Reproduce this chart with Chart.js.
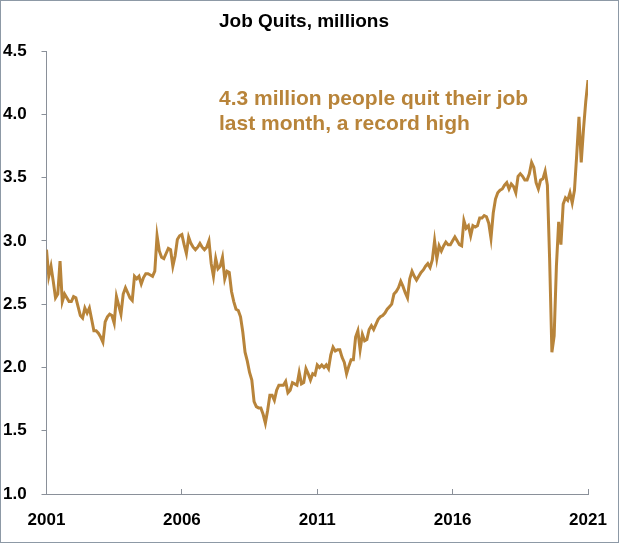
<!DOCTYPE html>
<html>
<head>
<meta charset="utf-8">
<title>Job Quits</title>
<script src="https://cdn.jsdelivr.net/npm/chart.js@4.4.1/dist/chart.umd.min.js"></script>
<style>
  html, body { margin: 0; padding: 0; background: #fff; }
  .frame { width: 619px; height: 543px; box-sizing: border-box; border: 1px solid #8d99a6; position: relative; }
  canvas { position: absolute; left: 0; top: 0; }
</style>
</head>
<body>
<div class="frame"><canvas id="quitsChart" width="617" height="541"></canvas></div>
<script>
// tick labels on the x axis, one every 60 months
const yearLabels = ['2001', '2006', '2011', '2016', '2021'];
const monthsPerLabel = 60;

// monthly job quits, millions (one row per year)
const quits = [
  2.93, 2.72, 2.80, 2.68, 2.55, 2.58, 2.84, 2.52, 2.58, 2.55, 2.52, 2.52,
  2.56, 2.55, 2.48, 2.41, 2.39, 2.47, 2.43, 2.47, 2.38, 2.29, 2.29, 2.27,
  2.24, 2.20, 2.36, 2.40, 2.42, 2.41, 2.35, 2.56, 2.49, 2.42, 2.58, 2.63,
  2.59, 2.55, 2.53, 2.72, 2.70, 2.72, 2.66, 2.71, 2.74, 2.74, 2.73, 2.72,
  2.76, 3.04, 2.92, 2.87, 2.86, 2.90, 2.94, 2.93, 2.80, 2.88, 3.01, 3.04,
  3.05, 2.97, 2.90, 3.03, 2.98, 2.95, 2.93, 2.95, 2.98, 2.95, 2.93, 2.95,
  3.00, 2.82, 2.72, 2.86, 2.78, 2.80, 2.87, 2.70, 2.76, 2.75, 2.60, 2.52,
  2.46, 2.45, 2.40, 2.28, 2.12, 2.05, 1.96, 1.90, 1.73, 1.69, 1.68, 1.68,
  1.63, 1.56, 1.66, 1.78, 1.78, 1.74, 1.82, 1.86, 1.86, 1.86, 1.89, 1.80,
  1.82, 1.88, 1.87, 1.86, 1.96, 1.87, 1.88, 1.99, 1.95, 1.90, 1.95, 1.94,
  2.02, 2.00, 2.02, 2.00, 2.02, 1.99, 2.10, 2.16, 2.13, 2.14, 2.14, 2.08,
  2.04, 1.95, 2.01, 2.06, 2.06, 2.24, 2.29, 2.14, 2.26, 2.21, 2.22, 2.30,
  2.33, 2.30, 2.34, 2.38, 2.40, 2.41, 2.43, 2.46, 2.48, 2.50, 2.58, 2.60,
  2.63, 2.68, 2.64, 2.59, 2.55, 2.70, 2.76, 2.72, 2.69, 2.72, 2.75, 2.77,
  2.80, 2.82, 2.79, 2.85, 3.00, 2.86, 2.96, 2.92, 2.96, 2.99, 2.97, 2.97,
  3.00, 3.03, 3.00, 2.97, 2.96, 3.16, 3.10, 3.12, 3.04, 3.12, 3.11, 3.12,
  3.18, 3.18, 3.20, 3.19, 3.14, 3.02, 3.22, 3.33, 3.38, 3.40, 3.41, 3.44,
  3.46, 3.41, 3.45, 3.43, 3.38, 3.51, 3.53, 3.51, 3.48, 3.48, 3.53, 3.62,
  3.58, 3.46, 3.41, 3.48, 3.49, 3.55, 3.44, 2.85, 2.12, 2.25, 2.80, 3.15,
  2.97, 3.29, 3.34, 3.32, 3.38, 3.30, 3.40, 3.68, 3.98, 3.62, 3.88, 4.10,
  4.27
];

const yMin = 1.0, yMax = 4.5, yStep = 0.5;
const chartTitle = 'Job Quits, millions';
const noteLines = ['4.3 million people quit their job', 'last month, a record high'];

const gold = '#b8843a';
const axisGrey = '#8a9099';
const fontFamily = '"Liberation Sans", Arial, sans-serif';

Chart.defaults.font.family = fontFamily;

// title and annotation text
const textPlugin = {
  id: 'texts',
  afterDraw(chart) {
    const ctx = chart.ctx;
    ctx.save();
    ctx.textBaseline = 'middle';

    ctx.font = 'bold 19px ' + fontFamily;
    ctx.fillStyle = '#000';
    ctx.textAlign = 'center';
    ctx.fillText(chartTitle, 303, 21);

    ctx.font = 'bold 21px ' + fontFamily;
    ctx.fillStyle = gold;
    ctx.textAlign = 'left';
    noteLines.forEach((line, i) => ctx.fillText(line, 218, 98 + i * 25));
    ctx.restore();
  }
};

const ctx = document.getElementById('quitsChart').getContext('2d');
new Chart(ctx, {
  type: 'line',
  data: {
    datasets: [{
      label: 'Job quits',
      data: quits.map((v, i) => ({ x: i, y: v })),
      borderColor: gold,
      borderWidth: 3,
      pointRadius: 0,
      tension: 0,
      fill: false
    }]
  },
  options: {
    responsive: false,
    animation: false,
    layout: { padding: { top: 50, left: 2, right: 30, bottom: 0 } },
    plugins: {
      legend: { display: false },
      tooltip: { enabled: false },
      title: { display: false }
    },
    scales: {
      x: {
        type: 'linear',
        min: 0,
        max: quits.length - 1,
        grid: { drawOnChartArea: false, tickLength: -5, color: axisGrey },
        border: { color: axisGrey },
        ticks: {
          stepSize: monthsPerLabel,
          autoSkip: false,
          maxRotation: 0,
          padding: 21,
          color: '#000',
          font: { size: 17, weight: 'bold' },
          callback: v => yearLabels[v / monthsPerLabel]
        },
        afterFit: s => { s.height = 48; s.paddingLeft = 0; s.paddingRight = 0; }
      },
      y: {
        min: yMin,
        max: yMax,
        grid: { drawOnChartArea: false, tickLength: 5, color: axisGrey },
        border: { color: axisGrey },
        ticks: {
          stepSize: yStep,
          crossAlign: 'far',
          color: '#000',
          font: { size: 17, weight: 'bold' },
          callback: v => v.toFixed(1)
        },
        afterFit: s => { s.width = 43.5; s.paddingTop = 0; }
      }
    }
  },
  plugins: [textPlugin]
});
</script>
</body>
</html>
